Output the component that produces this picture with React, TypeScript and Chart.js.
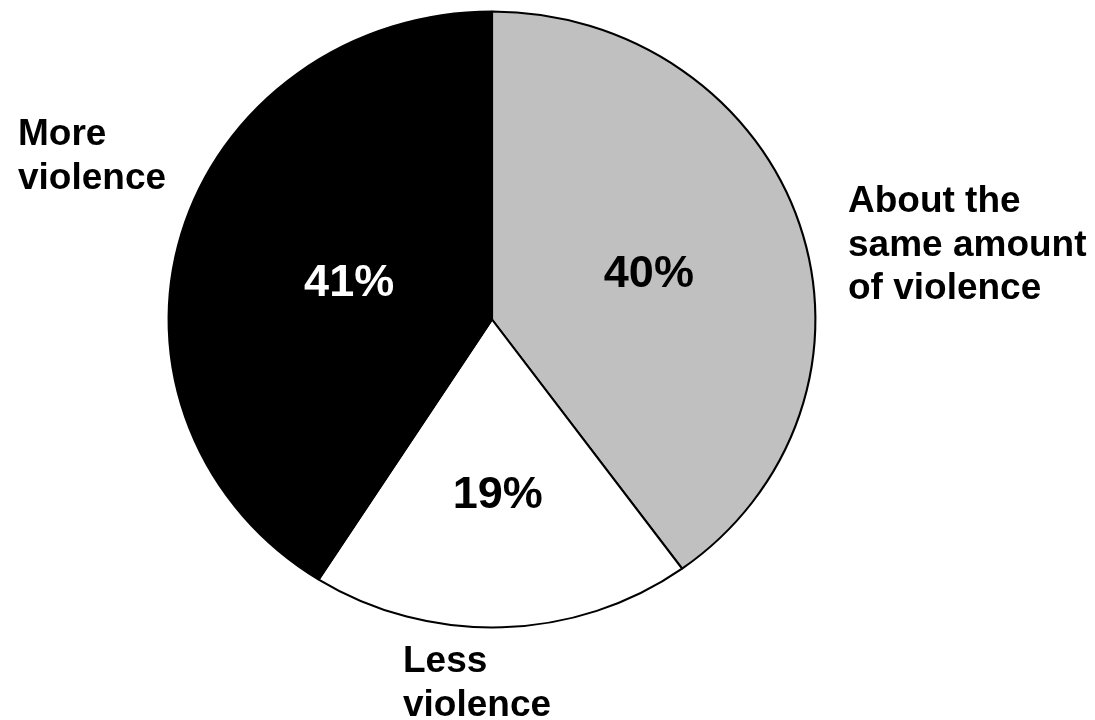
import React, { useEffect, useRef } from "react";
import { Chart, registerables } from "chart.js";

Chart.register(...registerables);

// Data (clockwise from 12 o'clock)
const categories = ["About the same amount of violence", "Less violence", "More violence"];
const values = [40, 19, 41];
const valueLabels = ["40%", "19%", "41%"];
const sliceColors = ["#c0c0c0", "#ffffff", "#000000"];
const valueTextColors = ["#000000", "#000000", "#ffffff"];

// Layout helpers (not data)
const valueLabelRadius = [0.51, 0.56, 0.46];
const xStretch = 1.05;
const outerLabelLines = [
  ["About the", "same amount", "of violence"],
  ["Less", "violence"],
  ["More", "violence"],
];
const outerLabelPos = [
  { x: 848, y: 212 },
  { x: 403, y: 672 },
  { x: 18, y: 145 },
];
const FONT = '"Liberation Sans", Arial, Helvetica, sans-serif';

const piePlugin = {
  id: "pieDecor",
  beforeDatasetsDraw(chart: any) {
    const arc = chart.getDatasetMeta(0).data[0];
    if (!arc) return;
    const ctx = chart.ctx;
    ctx.save();
    ctx.translate(arc.x, arc.y);
    ctx.scale(xStretch, 1);
    ctx.translate(-arc.x, -arc.y);
  },
  afterDatasetsDraw(chart: any) {
    const ctx = chart.ctx;
    ctx.restore();
    const meta = chart.getDatasetMeta(0);
    ctx.save();
    ctx.textAlign = "center";
    ctx.textBaseline = "alphabetic";
    const fs = 45;
    ctx.font = `bold ${fs}px ${FONT}`;
    meta.data.forEach((el: any, i: number) => {
      const p = el.getProps(["x", "y", "startAngle", "endAngle", "outerRadius"], true);
      const mid = (p.startAngle + p.endAngle) / 2;
      const d = valueLabelRadius[i] * p.outerRadius;
      const x = p.x + xStretch * d * Math.cos(mid);
      const y = p.y + d * Math.sin(mid);
      ctx.fillStyle = valueTextColors[i];
      ctx.fillText(valueLabels[i], x, y + 0.358 * fs);
    });
    ctx.textAlign = "left";
    const ofs = 37;
    ctx.font = `bold ${ofs}px ${FONT}`;
    ctx.fillStyle = "#000000";
    outerLabelLines.forEach((lines, i) => {
      lines.forEach((line, j) => {
        ctx.fillText(line, outerLabelPos[i].x, outerLabelPos[i].y + j * 43.5);
      });
    });
    ctx.restore();
  },
};

export default function App() {
  const ref = useRef<HTMLCanvasElement>(null);
  useEffect(() => {
    if (!ref.current) return;
    const chart = new Chart(ref.current, {
      type: "pie",
      data: {
        labels: categories,
        datasets: [
          {
            data: values,
            backgroundColor: sliceColors,
            borderColor: "#000000",
            borderWidth: 2,
            hoverOffset: 0,
          },
        ],
      },
      options: {
        responsive: false,
        animation: false,
        layout: { padding: { top: 10.5, bottom: 91.5, left: 183, right: 294 } },
        plugins: {
          legend: { display: false },
          tooltip: { enabled: false },
          title: { display: false },
        },
        events: [],
      },
      plugins: [piePlugin],
    });
    return () => chart.destroy();
  }, []);
  return (
    <div style={{ position: "fixed", left: 0, top: 0, width: 1095, height: 720, background: "#fff" }}>
      <canvas ref={ref} width={1095} height={720} style={{ display: "block", width: 1095, height: 720 }} />
    </div>
  );
}
